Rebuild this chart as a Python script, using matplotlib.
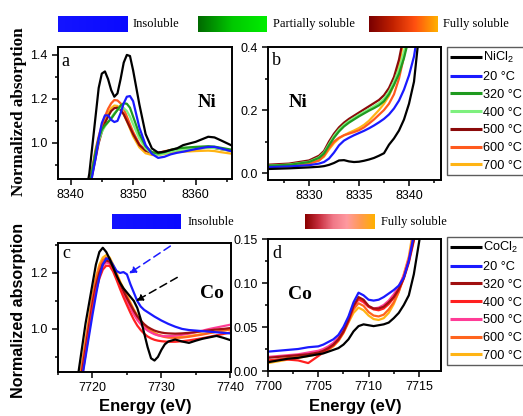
import numpy as np
import matplotlib
matplotlib.use('Agg')
import matplotlib.pyplot as plt
from matplotlib.colors import LinearSegmentedColormap
from matplotlib.ticker import MultipleLocator, FormatStrFormatter

plt.rcParams['font.family'] = ['Liberation Sans', 'DejaVu Sans']
plt.rcParams['mathtext.fontset'] = 'custom'
plt.rcParams['mathtext.rm'] = 'Liberation Sans'
plt.rcParams['mathtext.it'] = 'Liberation Sans'

# ---- Ni K-edge, panel a (white line region) ----
e_a = [8342, 8343, 8344, 8344.5, 8345, 8345.5, 8346, 8346.5, 8347, 8347.5, 8348, 8348.5,
       8349, 8349.5, 8350, 8351, 8352, 8353, 8354, 8355, 8356, 8357, 8358, 8360, 8362,
       8363, 8364, 8366]
a_ref = [0.70, 0.86, 1.12, 1.25, 1.315, 1.325, 1.29, 1.24, 1.21, 1.225, 1.29, 1.365,
         1.40, 1.395, 1.33, 1.175, 1.04, 0.975, 0.956, 0.96, 0.968, 0.975, 0.99, 1.005,
         1.028, 1.025, 1.012, 0.985]
a_20 = [0.62, 0.78, 0.93, 1.02, 1.09, 1.125, 1.125, 1.105, 1.095, 1.10, 1.135, 1.18,
        1.21, 1.213, 1.19, 1.07, 0.99, 0.95, 0.932, 0.937, 0.948, 0.955, 0.96, 0.972,
        0.982, 0.982, 0.975, 0.96]
a_320 = [0.66, 0.80, 0.96, 1.02, 1.06, 1.08, 1.095, 1.11, 1.13, 1.15, 1.17, 1.18,
         1.178, 1.16, 1.12, 1.04, 0.985, 0.958, 0.952, 0.958, 0.968, 0.975, 0.978, 0.982,
         0.985, 0.983, 0.978, 0.968]
a_400 = [0.66, 0.80, 0.95, 1.01, 1.05, 1.075, 1.095, 1.115, 1.135, 1.15, 1.16, 1.158,
         1.145, 1.12, 1.085, 1.02, 0.975, 0.952, 0.946, 0.952, 0.96, 0.966, 0.97, 0.975,
         0.978, 0.977, 0.972, 0.962]
a_500 = [0.62, 0.79, 0.93, 1.0, 1.05, 1.09, 1.12, 1.145, 1.158, 1.16, 1.15, 1.13,
         1.10, 1.07, 1.04, 0.99, 0.965, 0.955, 0.955, 0.96, 0.965, 0.968, 0.972, 0.975,
         0.978, 0.977, 0.972, 0.965]
a_600 = [0.64, 0.81, 0.97, 1.03, 1.08, 1.12, 1.155, 1.18, 1.195, 1.193, 1.18, 1.155,
         1.12, 1.085, 1.05, 0.995, 0.965, 0.955, 0.955, 0.962, 0.968, 0.972, 0.975, 0.978,
         0.98, 0.978, 0.972, 0.962]
a_700 = [0.63, 0.80, 0.95, 1.02, 1.07, 1.105, 1.135, 1.158, 1.17, 1.168, 1.155, 1.13,
         1.10, 1.065, 1.03, 0.98, 0.953, 0.945, 0.945, 0.95, 0.955, 0.958, 0.96, 0.963,
         0.965, 0.963, 0.958, 0.95]

# ---- Ni pre-edge, panel b ----
e_b = [8325, 8328, 8330, 8331, 8331.5, 8332, 8332.5, 8333, 8333.5, 8334, 8334.5, 8335,
       8335.5, 8336, 8336.5, 8337, 8337.5, 8338, 8338.5, 8339, 8339.5, 8340, 8340.5,
       8341, 8341.5]
b_ref = [0.012, 0.015, 0.018, 0.02, 0.022, 0.026, 0.032, 0.04, 0.041, 0.037, 0.035, 0.036,
         0.039, 0.043, 0.048, 0.055, 0.063, 0.09, 0.11, 0.135, 0.17, 0.22, 0.29, 0.44, 0.6]
b_20 = [0.018, 0.021, 0.025, 0.03, 0.035, 0.046, 0.065, 0.088, 0.103, 0.112, 0.12, 0.127,
        0.134, 0.142, 0.151, 0.161, 0.172, 0.186, 0.205, 0.23, 0.265, 0.31, 0.37, 0.47, 0.6]
b_320 = [0.022, 0.026, 0.035, 0.048, 0.062, 0.088, 0.112, 0.132, 0.148, 0.16, 0.17, 0.18,
         0.189, 0.198, 0.206, 0.215, 0.228, 0.25, 0.28, 0.315, 0.365, 0.43, 0.5, 0.58, 0.66]
b_400 = [0.022, 0.027, 0.036, 0.05, 0.065, 0.092, 0.118, 0.138, 0.153, 0.165, 0.175, 0.185,
         0.194, 0.203, 0.212, 0.222, 0.236, 0.258, 0.29, 0.33, 0.385, 0.45, 0.52, 0.6, 0.68]
b_500 = [0.025, 0.03, 0.04, 0.055, 0.07, 0.10, 0.125, 0.145, 0.16, 0.172, 0.182, 0.192,
         0.202, 0.212, 0.222, 0.232, 0.247, 0.27, 0.305, 0.36, 0.44, 0.53, 0.62, 0.72, 0.82]
b_600 = [0.02, 0.024, 0.03, 0.04, 0.055, 0.08, 0.10, 0.112, 0.12, 0.125, 0.13, 0.136,
         0.145, 0.157, 0.17, 0.185, 0.2, 0.22, 0.25, 0.3, 0.37, 0.46, 0.55, 0.64, 0.74]
b_700 = [0.02, 0.024, 0.03, 0.04, 0.052, 0.075, 0.095, 0.11, 0.12, 0.128, 0.135, 0.143,
         0.153, 0.166, 0.183, 0.2, 0.22, 0.245, 0.28, 0.34, 0.43, 0.52, 0.61, 0.7, 0.8]

# ---- Co K-edge, panel c ----
e_c = [7716, 7717, 7718, 7719, 7720, 7720.5, 7721, 7721.5, 7722, 7722.5, 7723, 7723.5,
       7724, 7724.5, 7725, 7725.5, 7726, 7726.5, 7727, 7727.5, 7728, 7728.5, 7729, 7729.5,
       7730, 7730.5, 7731, 7732, 7733, 7734, 7735, 7736, 7737, 7738, 7739, 7740]
c_ref = [0.45, 0.65, 0.85, 1.02, 1.16, 1.23, 1.275, 1.29, 1.275, 1.25, 1.22, 1.19,
         1.165, 1.145, 1.13, 1.115, 1.10, 1.075, 1.035, 0.985, 0.935, 0.895, 0.887, 0.9,
         0.925, 0.945, 0.955, 0.962, 0.955, 0.95, 0.958, 0.965, 0.97, 0.975, 0.968, 0.96]
c_20 = [0.4, 0.55, 0.75, 0.9, 1.05, 1.12, 1.185, 1.23, 1.252, 1.248, 1.228, 1.207,
        1.2, 1.203, 1.195, 1.16, 1.13, 1.10, 1.08, 1.068, 1.06, 1.052, 1.044, 1.037,
        1.03, 1.024, 1.018, 1.008, 1.0, 0.996, 0.994, 0.992, 0.99, 0.988, 0.986, 0.984]
c_320 = [0.42, 0.58, 0.77, 0.93, 1.09, 1.155, 1.2, 1.232, 1.245, 1.24, 1.22, 1.19,
         1.16, 1.135, 1.11, 1.087, 1.065, 1.045, 1.03, 1.017, 1.007, 1.0, 0.994, 0.99,
         0.987, 0.985, 0.984, 0.983, 0.984, 0.986, 0.989, 0.992, 0.995, 0.998, 1.0, 1.003]
c_400 = [0.40, 0.56, 0.75, 0.91, 1.07, 1.135, 1.18, 1.212, 1.226, 1.225, 1.205, 1.175,
         1.143, 1.113, 1.085, 1.058, 1.033, 1.012, 0.996, 0.983, 0.973, 0.966, 0.961, 0.958,
         0.956, 0.955, 0.954, 0.954, 0.956, 0.959, 0.963, 0.967, 0.972, 0.977, 0.982, 0.987]
c_500 = [0.42, 0.58, 0.77, 0.93, 1.09, 1.15, 1.195, 1.225, 1.238, 1.233, 1.213, 1.183,
         1.153, 1.127, 1.1, 1.075, 1.052, 1.032, 1.017, 1.004, 0.994, 0.987, 0.981, 0.977,
         0.975, 0.974, 0.974, 0.976, 0.979, 0.983, 0.988, 0.994, 1.0, 1.005, 1.01, 1.015]
c_600 = [0.44, 0.6, 0.79, 0.95, 1.11, 1.175, 1.22, 1.245, 1.255, 1.247, 1.225, 1.195,
         1.165, 1.14, 1.115, 1.09, 1.065, 1.043, 1.025, 1.01, 0.998, 0.99, 0.983, 0.978,
         0.974, 0.971, 0.969, 0.968, 0.969, 0.972, 0.976, 0.98, 0.985, 0.99, 0.994, 0.998]
c_700 = [0.45, 0.62, 0.8, 0.96, 1.12, 1.185, 1.23, 1.255, 1.264, 1.255, 1.23, 1.2,
         1.17, 1.145, 1.12, 1.095, 1.07, 1.048, 1.03, 1.015, 1.002, 0.993, 0.986, 0.98,
         0.976, 0.973, 0.971, 0.97, 0.971, 0.974, 0.978, 0.982, 0.986, 0.99, 0.994, 0.998]

# ---- Co pre-edge, panel d ----
e_d = [7700, 7701, 7702, 7703, 7704, 7705, 7705.5, 7706, 7706.5, 7707, 7707.5, 7708,
       7708.5, 7709, 7709.5, 7710, 7710.5, 7711, 7711.5, 7712, 7712.5, 7713, 7713.5,
       7714, 7714.5, 7715, 7715.5]
d_ref = [0.010, 0.012, 0.014, 0.015, 0.017, 0.019, 0.020, 0.022, 0.024, 0.026, 0.030, 0.036,
         0.045, 0.051, 0.053, 0.052, 0.051, 0.052, 0.053, 0.055, 0.06, 0.066, 0.075, 0.086,
         0.11, 0.145, 0.18]
d_20 = [0.022, 0.023, 0.024, 0.025, 0.027, 0.028, 0.030, 0.033, 0.036, 0.041, 0.05, 0.062,
        0.078, 0.089, 0.086, 0.081, 0.08, 0.081, 0.084, 0.088, 0.092, 0.097, 0.106, 0.125,
        0.155, 0.19, 0.23]
d_320 = [0.015, 0.016, 0.017, 0.018, 0.019, 0.021, 0.023, 0.026, 0.03, 0.036, 0.045, 0.058,
         0.074, 0.084, 0.081, 0.074, 0.071, 0.071, 0.073, 0.078, 0.084, 0.093, 0.106, 0.125,
         0.15, 0.185, 0.22]
d_400 = [0.012, 0.013, 0.013, 0.012, 0.009, 0.017, 0.021, 0.025, 0.029, 0.035, 0.044, 0.057,
         0.073, 0.082, 0.079, 0.073, 0.07, 0.069, 0.071, 0.076, 0.083, 0.092, 0.105, 0.123,
         0.148, 0.18, 0.215]
d_500 = [0.016, 0.017, 0.018, 0.019, 0.021, 0.023, 0.025, 0.028, 0.032, 0.038, 0.047, 0.06,
         0.074, 0.081, 0.078, 0.073, 0.071, 0.072, 0.075, 0.08, 0.087, 0.096, 0.109, 0.128,
         0.155, 0.19, 0.225]
d_600 = [0.011, 0.013, 0.015, 0.016, 0.018, 0.02, 0.022, 0.025, 0.029, 0.035, 0.044, 0.056,
         0.07, 0.077, 0.074, 0.067, 0.063, 0.062, 0.064, 0.07, 0.078, 0.09, 0.106, 0.127,
         0.155, 0.19, 0.225]
d_700 = [0.009, 0.011, 0.013, 0.015, 0.017, 0.019, 0.021, 0.024, 0.028, 0.034, 0.043, 0.055,
         0.066, 0.072, 0.069, 0.063, 0.059, 0.058, 0.06, 0.066, 0.076, 0.09, 0.11, 0.13,
         0.165, 0.2, 0.24]

labels_ni = ['NiCl$_2$', '20 °C', '320 °C', '400 °C', '500 °C', '600 °C', '700 °C']
labels_co = ['CoCl$_2$', '20 °C', '320 °C', '400 °C', '500 °C', '600 °C', '700 °C']
colors_ni = ['black', '#1a1aff', '#1f9a1f', '#7ef07e', '#8b0a0a', '#ff5a1e', '#ffb414']
colors_co = ['black', '#1a1aff', '#a01010', '#ff2020', '#ff3c96', '#ff641e', '#ffb414']

# arrows in panel c: (tail, head)
arrow_blue = ((7731.3, 1.296), (7725.3, 1.198))
arrow_black = ((7732.3, 1.184), (7726.3, 1.10))

W, H = 523, 416
fig = plt.figure(figsize=(W / 100, H / 100), dpi=100)


def px_axes(l, t, r, b):
    return fig.add_axes([l / W, 1 - b / H, (r - l) / W, (b - t) / H])


def style(ax):
    for s in ax.spines.values():
        s.set_linewidth(1.4)
    ax.tick_params(which='both', direction='out', top=False, right=False,
                   labelsize=9, width=1.1, pad=3)
    ax.tick_params(which='major', length=4.5)
    ax.tick_params(which='minor', length=2.5)


def draw(ax, x, series, colors, order):
    lines = [None] * len(series)
    for i in order:
        lines[i], = ax.plot(x, series[i], color=colors[i], lw=1.6, solid_capstyle='butt')
    return lines


serif = ['Liberation Serif', 'DejaVu Serif']

ax_a = px_axes(58, 47, 232, 179)
ax_b = px_axes(268, 47, 441, 180)
ax_c = px_axes(58, 243, 231, 372)
ax_d = px_axes(268, 239, 441, 371)

order = [6, 5, 4, 3, 2, 1, 0]
draw(ax_a, e_a, [a_ref, a_20, a_320, a_400, a_500, a_600, a_700], colors_ni, order)
ax_a.set_xlim(8338, 8365.8)
ax_a.set_ylim(0.836, 1.436)
ax_a.xaxis.set_major_locator(MultipleLocator(10))
ax_a.xaxis.set_minor_locator(MultipleLocator(5))
ax_a.yaxis.set_major_locator(MultipleLocator(0.2))
ax_a.yaxis.set_minor_locator(MultipleLocator(0.1))
style(ax_a)

hn = draw(ax_b, e_b, [b_ref, b_20, b_320, b_400, b_500, b_600, b_700], colors_ni, order)
ax_b.set_xlim(8325.9, 8343.2)
ax_b.set_ylim(-0.022, 0.4)
ax_b.xaxis.set_major_locator(MultipleLocator(5))
ax_b.xaxis.set_minor_locator(MultipleLocator(2.5))
ax_b.yaxis.set_major_locator(MultipleLocator(0.2))
ax_b.yaxis.set_minor_locator(MultipleLocator(0.1))
style(ax_b)

order_c = [6, 5, 4, 2, 3, 1, 0]
draw(ax_c, e_c, [c_ref, c_20, c_320, c_400, c_500, c_600, c_700], colors_co, order_c)
ax_c.set_xlim(7715, 7740.1)
ax_c.set_ylim(0.846, 1.307)
ax_c.xaxis.set_major_locator(MultipleLocator(10))
ax_c.xaxis.set_minor_locator(MultipleLocator(5))
ax_c.yaxis.set_major_locator(MultipleLocator(0.2))
ax_c.yaxis.set_minor_locator(MultipleLocator(0.1))
style(ax_c)
for (tail, head), col in [(arrow_blue, '#1a1aff'), (arrow_black, 'black')]:
    ax_c.annotate('', xy=head, xytext=tail,
                  arrowprops=dict(arrowstyle='-|>', color=col, lw=1.1, ls=(0, (5, 3)),
                                  mutation_scale=10, shrinkA=0, shrinkB=0))

hc = draw(ax_d, e_d, [d_ref, d_20, d_320, d_400, d_500, d_600, d_700], colors_co, order)
ax_d.set_xlim(7700, 7717.2)
ax_d.set_ylim(0, 0.15)
ax_d.xaxis.set_major_locator(MultipleLocator(5))
ax_d.xaxis.set_minor_locator(MultipleLocator(2.5))
ax_d.yaxis.set_major_locator(MultipleLocator(0.05))
ax_d.yaxis.set_minor_locator(MultipleLocator(0.025))
ax_d.yaxis.set_major_formatter(FormatStrFormatter('%.2f'))
style(ax_d)

# panel letters and element labels
ax_a.text(0.02, 0.856, 'a', transform=ax_a.transAxes, family=serif, fontsize=13)
ax_a.text(0.805, 0.548, 'Ni', transform=ax_a.transAxes, family=serif, fontsize=13.5,
          fontweight='bold')
ax_b.text(0.023, 0.865, 'b', transform=ax_b.transAxes, family=serif, fontsize=13)
ax_b.text(0.121, 0.547, 'Ni', transform=ax_b.transAxes, family=serif, fontsize=13.5,
          fontweight='bold')
ax_c.text(0.023, 0.881, 'c', transform=ax_c.transAxes, family=serif, fontsize=13)
ax_c.text(0.82, 0.571, 'Co', transform=ax_c.transAxes, family=serif, fontsize=14,
          fontweight='bold')
ax_d.text(0.023, 0.854, 'd', transform=ax_d.transAxes, family=serif, fontsize=13)
ax_d.text(0.115, 0.545, 'Co', transform=ax_d.transAxes, family=serif, fontsize=14,
          fontweight='bold')

# legends
for handles, labels, top in [(hn, labels_ni, 47), (hc, labels_co, 237)]:
    leg = fig.legend(handles, labels, loc='upper left',
                     bbox_to_anchor=(447 / W, 1 - top / H), fontsize=9.2,
                     handlelength=2.5, handletextpad=0.08, borderpad=0.25,
                     labelspacing=0.45, borderaxespad=0, fancybox=False)
    leg.get_frame().set_edgecolor('#333333')
    leg.get_frame().set_linewidth(1.0)
    for ln in leg.get_lines():
        ln.set_linewidth(2.2)

fig.text(19 / W, 1 - 112 / H, 'Normalized absorption', rotation=90, ha='center',
         va='center', family=serif, fontsize=12.3, fontweight='bold')
fig.text(19 / W, 1 - 310 / H, 'Normalized absorption', rotation=90, ha='center',
         va='center', fontsize=11.6, fontweight='bold')
fig.text(145 / W, 1 - 406 / H, 'Energy (eV)', ha='center', va='center', fontsize=12,
         fontweight='bold')
fig.text(355 / W, 1 - 406 / H, 'Energy (eV)', ha='center', va='center', fontsize=12,
         fontweight='bold')


def bar(l, t, r, b, cols, text, tx):
    bx = px_axes(l, t, r, b)
    cm = LinearSegmentedColormap.from_list('g', cols)
    bx.imshow(np.linspace(0, 1, 100)[None, :], aspect='auto', cmap=cm)
    bx.set_axis_off()
    fig.text(tx / W, 1 - (t + b) / 2 / H, text, ha='left', va='center', family=serif,
             fontsize=9)


bar(58, 16, 128, 32, ['#1414ff', '#0a0aff'], 'Insoluble', 133)
bar(198, 16, 267, 32, ['#006a00', '#00c800', '#00ee00'], 'Partially soluble', 273)
bar(369, 16, 438, 32, ['#7a0000', '#c02000', '#ff5010', '#ffb000'], 'Fully soluble', 443)
bar(112, 214, 180, 229, ['#1414ff', '#0a0aff'], 'Insoluble', 188)
bar(305, 214, 374, 229, ['#8b0000', '#c83040', '#f07888', '#ff9aa0', '#ff9a50', '#ffb000'],
    'Fully soluble', 381)

fig.savefig('out.png', dpi=100)
